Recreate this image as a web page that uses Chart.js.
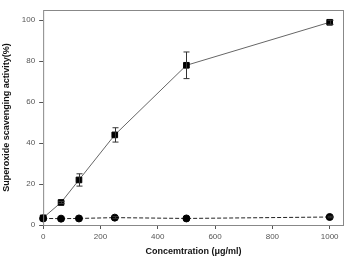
<!DOCTYPE html>
<html>
<head>
<meta charset="utf-8">
<script src="https://cdn.jsdelivr.net/npm/chart.js@4.4.1/dist/chart.umd.min.js"></script>
<style>
  html, body { margin: 0; padding: 0; background: #fff; }
  #wrap { width: 349px; height: 259px; position: relative; }
</style>
</head>
<body>
<div id="wrap"><canvas id="c"></canvas></div>
<script>
// concentrations (ug/ml)
const conc = [0, 62.5, 125, 250, 500, 1000];
// sample (squares) and its standard deviation
const sampleVals = [3.5, 11, 22, 44, 78, 99];
const sampleErr = [0, 0.5, 3, 3.5, 6.5, 1];
// control (circles, dashed)
const controlVals = [3.2, 3.1, 3.2, 3.6, 3.2, 3.9];
const controlErr = [0, 0, 0, 0.5, 0, 0.4];
const xTicks = [0, 200, 400, 600, 800, 1000];
const yTicks = [0, 20, 40, 60, 80, 100];

const pts = (xs, ys) => xs.map((x, i) => ({ x: x, y: ys[i] }));

// draws error bars and the plot frame
const extras = {
  id: "extras",
  afterDatasetsDraw(chart) {
    const ctx = chart.ctx;
    const xs = chart.scales.x;
    const ys = chart.scales.y;
    const errs = [sampleErr, controlErr];
    ctx.save();
    ctx.strokeStyle = "#333";
    ctx.lineWidth = 1;
    errs.forEach((err, d) => {
      const vals = chart.data.datasets[d].data;
      vals.forEach((p, i) => {
        if (!err[i]) return;
        const px = Math.round(xs.getPixelForValue(p.x)) + 0.5;
        const top = ys.getPixelForValue(p.y + err[i]);
        const bot = ys.getPixelForValue(p.y - err[i]);
        ctx.beginPath();
        ctx.moveTo(px, top); ctx.lineTo(px, bot);
        ctx.moveTo(px - 3, top); ctx.lineTo(px + 3, top);
        ctx.moveTo(px - 3, bot); ctx.lineTo(px + 3, bot);
        ctx.stroke();
      });
    });
    const a = chart.chartArea;
    ctx.strokeStyle = "#888";
    ctx.strokeRect(a.left + 0.5, a.top + 0.5, a.right - a.left - 1, a.bottom - a.top);
    ctx.restore();
  }
};

new Chart(document.getElementById("c"), {
  type: "line",
  data: {
    datasets: [
      {
        data: pts(conc, sampleVals),
        borderColor: "#666",
        borderWidth: 1,
        pointStyle: "rect",
        pointRadius: 4,
        pointBackgroundColor: "#000",
        pointBorderColor: "#000",
        tension: 0,
      },
      {
        data: pts(conc, controlVals),
        borderColor: "#222",
        borderWidth: 1,
        borderDash: [4, 2],
        pointStyle: "circle",
        pointRadius: 3.5,
        pointBackgroundColor: "#000",
        pointBorderColor: "#000",
        tension: 0,
      },
    ],
  },
  options: {
    responsive: true,
    maintainAspectRatio: false,
    animation: false,
    clip: false,
    layout: { padding: { top: 10, right: 2, left: 1, bottom: 3 } },
    plugins: { legend: { display: false }, tooltip: { enabled: false } },
    scales: {
      x: {
        type: "linear",
        min: 0,
        max: 1050,
        afterBuildTicks: (s) => { s.ticks = xTicks.map((v) => ({ value: v })); },
        afterFit: (s) => { s.paddingRight = 0; },
        grid: { drawOnChartArea: false, drawTicks: true, tickLength: 4, color: "#555" },
        border: { display: false },
        ticks: {
          color: "#555",
          font: { family: "Liberation Sans", size: 8, lineHeight: 1 },
          padding: 4,
          maxRotation: 0,
          callback: (v) => String(v),
        },
        title: {
          display: true,
          text: "Concemtration (\u03bcg/ml)",
          color: "#111",
          font: { family: "Liberation Sans", size: 9, weight: "bold", lineHeight: 1 },
          padding: { top: 2, bottom: 0 },
        },
      },
      y: {
        min: 0,
        max: 105,
        afterBuildTicks: (s) => { s.ticks = yTicks.map((v) => ({ value: v })); },
        grid: { drawOnChartArea: false, drawTicks: true, tickLength: 4, color: "#555" },
        border: { display: false },
        ticks: { color: "#555", font: { family: "Liberation Sans", size: 8 }, padding: 4 },
        title: {
          display: true,
          text: "Superoxide scavenging activity(%)",
          color: "#111",
          font: { family: "Liberation Sans", size: 9, weight: "bold" },
          padding: { top: 0, bottom: 6 },
        },
      },
    },
  },
  plugins: [extras],
});
</script>
</body>
</html>
